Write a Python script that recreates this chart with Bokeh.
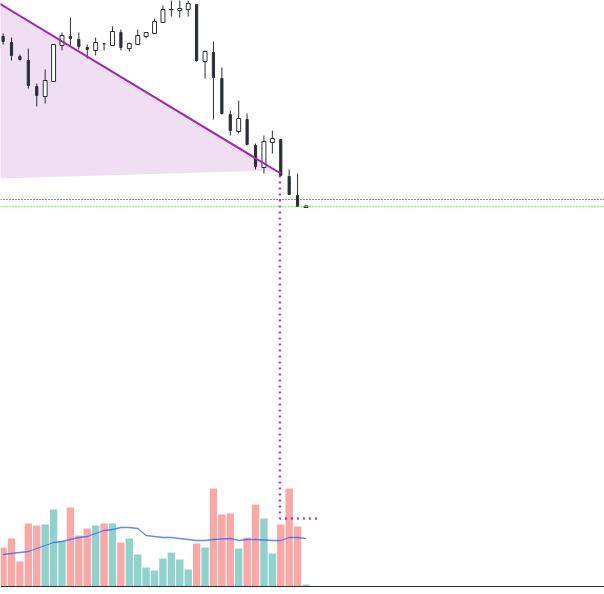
from bokeh.plotting import figure
from bokeh.models import Range1d, Span, ColumnDataSource
from bokeh.embed import file_html
from bokeh.resources import INLINE

# ---- data (index, OHLC in price units, volume in millions) ----
opens  = [56.4, 55.8, 54.4, 54.0, 51.4, 50.4, 51.9, 55.5, 56.4, 56.1, 55.3, 55.0, 55.7, 55.5, 56.8, 55.2, 55.6, 56.4,
          56.7, 57.8, 59.08, 59.0, 59.1, 59.6, 53.9, 54.8, 52.2, 48.6, 46.9, 48.1, 45.5, 43.3, 45.8, 46.1, 42.4, 40.5, 39.3]
highs  = [56.7, 56.3, 54.6, 55.2, 51.7, 53.1, 55.6, 56.8, 58.3, 56.8, 55.6, 56.3, 55.7, 57.4, 57.1, 55.8, 57.1, 56.8,
          58.2, 59.5, 60.2, 60.2, 60.0, 59.6, 55.0, 55.9, 53.3, 49.0, 50.0, 48.7, 45.7, 46.5, 47.0, 46.1, 43.1, 42.7, 39.5]
lows   = [55.6, 54.0, 54.0, 51.2, 49.4, 49.7, 51.9, 55.0, 55.5, 55.1, 54.2, 54.5, 55.0, 55.5, 55.0, 54.9, 55.6, 56.2,
          56.7, 57.8, 58.4, 58.3, 58.4, 53.9, 52.2, 48.1, 48.6, 46.5, 46.7, 45.5, 43.1, 42.7, 44.7, 42.5, 40.6, 39.4, 39.3]
closes = [55.9, 54.5, 54.1, 51.5, 50.5, 52.0, 55.6, 56.5, 56.2, 55.4, 55.1, 55.8, 55.65, 56.9, 55.3, 55.7, 56.5, 56.8,
          57.9, 59.1, 59.1, 59.2, 59.7, 54.0, 54.9, 52.3, 48.7, 47.0, 48.2, 45.6, 43.4, 45.9, 46.2, 42.5, 40.6, 39.4, 39.45]
volumes = [3.9, 4.8, 2.5, 6.3, 6.1, 6.2, 7.7, 4.5, 7.9, 5.1, 5.8, 6.1, 6.3, 6.3, 4.4, 4.8, 3.2, 1.9,
           1.6, 2.8, 3.4, 2.7, 1.7, 4.3, 3.9, 9.8, 7.2, 7.3, 3.8, 4.9, 8.2, 6.8, 3.3, 6.2, 9.8, 6.0, 0.2]
vol_ma = [3.2, 3.3, 3.4, 3.5, 3.8, 4.1, 4.4, 4.5, 4.7, 4.9, 5.0, 5.3, 5.6, 5.7, 5.9, 5.9, 5.8, 5.1,
          5.0, 4.9, 4.9, 4.8, 4.7, 4.6, 4.6, 4.7, 4.75, 4.8, 4.6, 4.7, 4.7, 4.65, 4.6, 4.6, 4.9, 4.9, 4.8]

trend_x = [-3, 33]
trend_y = [61.0, 42.7]
wedge_x = [-3, 32.3, -3]
wedge_y = [61.0, 43.0, 42.13]
level_red = 40.1
level_green = 39.4
measure_x = [32.9, 32.9, 37.5]
measure_y = [42.5, 8.2, 8.2]

idx = list(range(len(opens)))
up = [c >= o for o, c in zip(opens, closes)]

DARK = "#2a2e39"
UPV = "#92d2cc"
DNV = "#f7a9a7"
PURPLE = "#9c27b0"

p = figure(width=604, height=594, output_backend="svg", toolbar_location=None,
           x_range=Range1d(-0.309, 71.476), y_range=Range1d(0.6, 60.0),
           x_axis_type=None, y_axis_type=None, min_border=0,
           min_border_left=0, min_border_right=0, min_border_top=0, min_border_bottom=0,
           outline_line_color=None, background_fill_color="white", border_fill_color="white")
p.extra_y_ranges = {"vol": Range1d(-0.8, 58.6)}

# wedge fill
p.patch(wedge_x, wedge_y, fill_color=PURPLE, fill_alpha=0.15, line_color=None)

# volume
vsrc = ColumnDataSource(dict(x=idx, v=volumes, c=[UPV if u else DNV for u in up]))
p.vbar(x="x", top="v", bottom=0, width=0.88, fill_color="c", line_color=None,
       source=vsrc, y_range_name="vol")
p.line(idx, vol_ma, line_color="#2962ff", line_width=1.3, line_alpha=0.75, y_range_name="vol")

# baseline
p.add_layout(Span(location=0, dimension="width", y_range_name="vol",
                  line_color=DARK, line_width=1.2))

# level lines
p.add_layout(Span(location=level_red, dimension="width", line_color="#800000",
                  line_width=1, line_dash="1 2"))
p.add_layout(Span(location=level_green, dimension="width", line_color="#00ff00",
                  line_width=1.4, line_dash="1 2"))

# candles
p.segment(idx, highs, idx, lows, line_color=DARK, line_width=1)
ux = [i for i in idx if up[i]]
dx = [i for i in idx if not up[i]]
p.vbar(x=ux, top=[closes[i] for i in ux], bottom=[opens[i] for i in ux], width=0.47,
       fill_color="white", line_color=DARK, line_width=1)
p.vbar(x=dx, top=[opens[i] for i in dx], bottom=[closes[i] for i in dx], width=0.26,
       fill_color=DARK, line_color=DARK, line_width=1)

# trend line
p.line(trend_x, trend_y, line_color=PURPLE, line_width=2)

# measure dotted line
p.line(measure_x, measure_y, line_color=PURPLE, line_alpha=0.85, line_width=2.5, line_dash="2 4")

open("out.html", "w").write(file_html(p, INLINE))
